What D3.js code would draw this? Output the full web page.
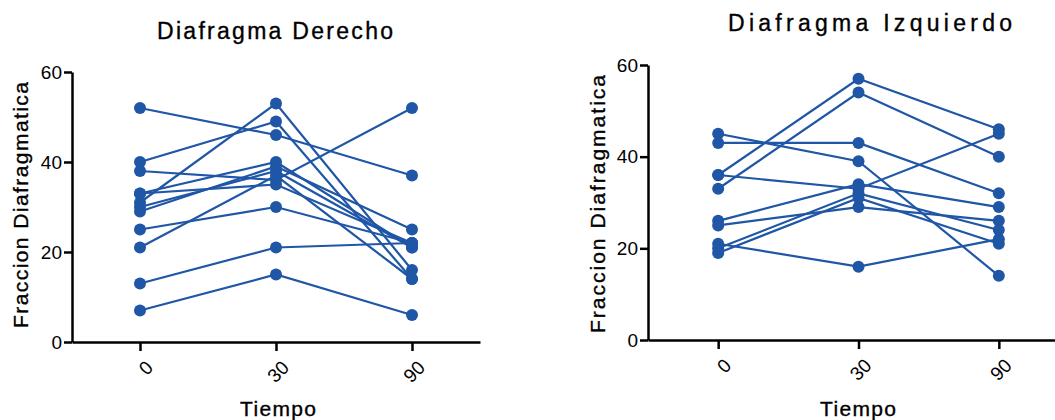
<!DOCTYPE html>
<html>
<head>
<meta charset="utf-8">
<script src="https://cdn.jsdelivr.net/npm/d3@7"></script>
<style>
  body { margin: 0; background: #fff; }
  text { font-family: "Liberation Sans", Arial, sans-serif; fill: #000; }
  .label { stroke: #000; stroke-width: 0.35; }
  .axis path, .axis line { stroke: #000; stroke-width: 2.5; }
</style>
</head>
<body>
<div id="chart"></div>
<script>
// tiempos (categorias del eje x)
var tiempos = ["0", "30", "90"];
var yTicks = [0, 20, 40, 60];

// Diafragma Derecho: cada fila es un paciente [t0, t30, t90]
var derecho = [
	[52, 46, 37],
	[40, 49, 14],
	[38, 36, 52],
	[33, 40, 21],
	[33, 35, 22],
	[31, 53, 16],
	[30, 38, 21],
	[29, 39, 25],
	[25, 30, 22],
	[21, 37, 14],
	[13, 21, 22],
	[7, 15, 6]
];

// Diafragma Izquierdo
var izquierdo = [
	[45, 39, 14],
	[43, 43, 32],
	[36, 57, 46],
	[36, 33, 45],
	[33, 54, 40],
	[26, 34, 29],
	[25, 29, 26],
	[21, 16, 22],
	[20, 32, 24],
	[19, 31, 21]
];

var color = "#1f56a6";

var svg = d3.select("#chart").append("svg")
	.attr("width", 1055)
	.attr("height", 420);

function drawPanel(opts) {
	var x = d3.scalePoint().domain(tiempos).range([opts.x0, opts.x1]).padding(0.5);
	var y = d3.scaleLinear().domain([0, 60]).range([opts.y0, opts.y1]);

	var g = svg.append("g");

	// y axis
	g.append("g")
		.attr("class", "axis")
		.attr("transform", "translate(" + opts.x0 + ",0)")
		.call(d3.axisLeft(y).tickValues(yTicks).tickSize(8).tickPadding(2).tickSizeOuter(0))
		.selectAll("text")
		.style("font-size", "19px");

	// x axis
	var xa = g.append("g")
		.attr("class", "axis")
		.attr("transform", "translate(0," + opts.y0 + ")")
		.call(d3.axisBottom(x).tickSize(9).tickSizeOuter(0));
	xa.selectAll("text")
		.style("font-size", "19px")
		.attr("text-anchor", "end")
		.attr("dy", "0.35em")
		.attr("transform", "translate(9,22) rotate(-45)")
		.attr("x", 0).attr("y", 0);

	// lines
	var line = d3.line()
		.x(function(d, i) { return x(tiempos[i]); })
		.y(function(d) { return y(d); });

	g.selectAll(".serie").data(opts.data).enter().append("path")
		.attr("class", "serie")
		.attr("d", line)
		.attr("fill", "none")
		.attr("stroke", color)
		.attr("stroke-width", 2.2);

	opts.data.forEach(function(row) {
		g.selectAll(null).data(row).enter().append("circle")
			.attr("cx", function(d, i) { return x(tiempos[i]); })
			.attr("cy", function(d) { return y(d); })
			.attr("r", 6)
			.attr("fill", color);
	});

	// titles and labels
	g.append("text")
		.attr("class", "label")
		.attr("x", opts.titleX).attr("y", opts.titleY)
		.attr("text-anchor", "middle")
		.attr("textLength", opts.titleW)
		.style("font-size", "23px")
		.text(opts.title);

	g.append("text")
		.attr("class", "label")
		.attr("transform", "translate(" + opts.ylabX + "," + opts.ylabY + ") rotate(-90)")
		.attr("text-anchor", "middle")
		.attr("textLength", opts.ylabW)
		.style("font-size", "21px")
		.text("Fraccion Diafragmatica");

	g.append("text")
		.attr("class", "label")
		.attr("x", opts.xlabX).attr("y", 416)
		.attr("text-anchor", "middle")
		.attr("textLength", 76)
		.style("font-size", "21px")
		.text("Tiempo");
}

drawPanel({
	data: derecho, title: "Diafragma Derecho",
	x0: 72, x1: 480, y0: 342, y1: 72,
	titleX: 275, titleY: 39, titleW: 236,
	ylabX: 28, ylabY: 205, ylabW: 246,
	xlabX: 278
});

drawPanel({
	data: izquierdo, title: "Diafragma Izquierdo",
	x0: 648, x1: 1069, y0: 340, y1: 65,
	titleX: 870, titleY: 31, titleW: 284,
	ylabX: 605, ylabY: 204, ylabW: 258,
	xlabX: 858
});
</script>
</body>
</html>
